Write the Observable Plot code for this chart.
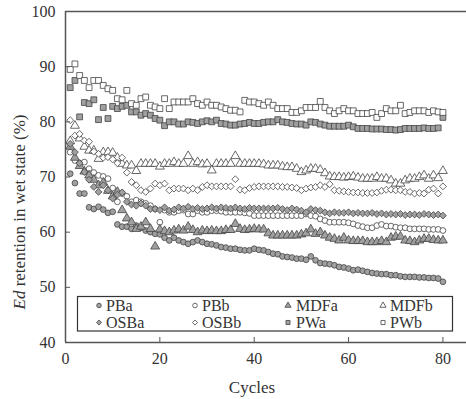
<!DOCTYPE html>
<html><head><meta charset="utf-8">
<script src="https://cdn.jsdelivr.net/npm/d3@7"></script>
<script src="https://cdn.jsdelivr.net/npm/@observablehq/plot@0.6"></script>
<style>
body{margin:0;background:#fff}
#chart{position:relative;width:466px;height:399px}
</style>
</head><body><div id="chart"></div>
<script>
const cycles = d3.range(1, 81);
const xTicks = [0, 20, 40, 60, 80];
const yTicks = [40, 50, 60, 70, 80, 90, 100];

const PBa = [70.6,68.9,67.0,67.0,64.5,64.2,64.6,64.1,63.5,63.7,
 61.4,61.0,61.0,60.6,61.2,60.8,60.3,60.0,59.7,59.6,
 59.0,58.5,59.0,58.5,58.2,57.9,58.2,58.5,58.2,57.9,
 57.8,57.6,57.3,57.2,57.0,57.0,56.8,56.7,56.7,57.0,
 56.8,56.7,56.4,56.1,56.0,55.6,55.5,55.4,55.2,55.2,
 55.0,55.6,54.9,54.4,54.3,54.2,54.0,53.7,53.6,53.4,
 53.1,53.2,53.0,52.8,52.6,52.5,52.4,52.4,52.2,52.2,
 52.0,51.9,51.9,51.9,51.8,51.8,51.7,51.7,51.6,51.0];
const PBb = [74.5,73.0,72.5,72.7,71.5,70.8,70.3,70.1,69.7,68.0,
 65.5,67.0,66.5,65.5,65.8,65.5,65.2,64.8,64.2,61.8,
 64.0,63.6,63.6,63.9,64.0,63.3,63.3,63.9,63.6,63.6,
 63.9,63.9,63.8,63.6,63.6,63.6,63.6,63.5,63.4,63.0,
 63.0,63.0,63.0,63.0,63.0,63.0,63.0,63.0,63.0,63.0,
 63.3,63.0,62.9,62.4,62.1,61.8,61.8,61.8,61.8,61.7,
 61.5,61.2,61.0,60.8,60.8,61.2,61.4,61.1,61.1,60.9,
 60.8,60.8,60.6,60.6,60.6,60.6,60.5,60.5,60.5,60.3];
const MDFa = [75.5,73.5,72.0,71.0,70.3,69.5,68.5,69.0,67.5,66.5,
 67.3,64.0,62.5,61.8,60.6,61.0,61.8,60.6,57.4,60.5,
 60.2,60.0,60.3,60.5,60.3,61.0,60.4,60.0,60.3,60.2,
 60.3,60.2,60.2,60.4,60.4,61.5,60.6,60.4,60.5,60.6,
 60.5,60.5,59.8,59.4,59.4,59.4,59.4,59.4,59.4,59.6,
 59.8,60.5,59.7,60.0,59.4,59.0,58.8,58.5,59.0,58.5,
 58.4,58.4,58.4,58.2,58.2,58.2,58.4,58.2,59.0,59.2,
 59.2,58.5,58.4,58.2,58.5,58.8,58.8,58.6,58.5,58.5];
const MDFb = [76.5,79.3,77.0,75.5,74.8,74.8,73.3,74.5,74.5,74.4,
 73.5,72.4,72.1,72.1,71.1,72.4,72.4,72.4,72.4,71.9,
 72.4,72.4,72.7,72.4,72.4,73.8,72.4,72.7,72.3,72.4,
 71.2,72.4,72.4,72.4,72.4,73.8,72.4,72.4,72.4,72.4,
 72.4,72.3,72.1,72.1,72.1,71.9,71.8,71.8,71.5,70.9,
 71.2,71.5,71.5,71.3,70.7,70.1,70.0,70.0,69.9,70.0,
 70.1,69.9,69.7,69.7,69.7,70.0,69.7,69.7,69.4,68.8,
 68.8,69.4,69.7,69.7,70.0,70.3,69.7,70.3,69.8,71.1];
const OSBa = [76.0,74.5,72.5,70.9,69.5,68.2,67.3,68.5,67.6,66.1,
 66.8,67.2,65.5,65.0,64.8,65.2,64.8,64.2,64.2,64.0,
 64.5,63.9,64.1,64.5,64.3,64.6,64.2,64.4,64.2,64.3,
 64.5,64.3,64.5,64.4,64.3,64.5,64.3,64.2,64.4,64.3,
 64.3,64.3,64.3,64.3,64.4,64.2,64.0,64.3,64.1,63.9,
 63.6,64.2,64.0,63.9,63.6,63.4,63.6,63.5,63.5,63.6,
 63.4,63.5,63.4,63.4,63.5,63.3,63.4,63.2,63.3,63.2,
 63.3,63.1,63.2,63.2,63.1,63.3,63.2,63.1,63.2,63.0];
const OSBb = [80.3,77.5,77.8,76.6,76.4,74.6,74.2,73.5,73.6,73.2,
 72.5,73.5,70.8,69.1,68.5,67.6,67.3,67.9,68.8,68.5,
 68.8,67.6,67.9,67.9,67.9,67.6,67.9,67.6,68.2,68.5,
 68.3,68.3,68.3,68.3,68.3,69.6,67.7,67.6,68.0,68.2,
 68.3,68.3,68.3,68.3,68.3,68.2,68.2,68.1,68.0,67.6,
 67.9,68.1,68.2,68.5,68.2,68.7,67.6,67.5,67.4,67.3,
 67.2,67.2,67.1,67.1,67.1,67.2,67.5,67.7,67.7,67.6,
 67.6,67.3,67.3,67.0,67.1,67.0,67.7,67.9,67.0,68.3];
const PWa = [86.2,87.5,80.9,83.5,83.3,84.0,80.4,82.6,80.6,82.8,
 82.4,82.8,83.0,81.8,81.8,81.2,81.5,81.2,80.6,80.3,
 79.3,80.0,80.0,79.6,79.6,80.0,79.9,79.7,80.0,80.2,
 80.0,80.3,79.7,79.6,79.4,79.4,79.6,79.7,79.9,79.7,
 79.7,79.9,80.0,80.0,80.4,80.0,79.9,79.7,79.6,79.6,
 79.4,80.0,79.9,79.6,79.4,79.2,79.2,79.2,79.2,79.4,
 79.1,78.8,78.8,78.8,78.7,78.7,78.7,78.6,78.6,78.5,
 78.6,78.8,78.8,78.8,78.8,78.9,78.8,78.8,78.9,80.8];
const PWb = [89.5,90.5,88.4,87.5,86.2,87.5,87.5,86.6,86.0,85.7,
 84.2,84.0,85.7,83.3,83.0,84.2,84.5,83.0,82.7,82.4,
 84.2,82.4,83.6,83.6,83.6,83.6,84.2,83.3,83.0,83.6,
 83.0,83.0,82.7,82.4,82.1,82.1,81.8,83.9,83.6,83.6,
 83.3,83.0,83.6,83.0,82.4,82.4,82.4,81.7,81.7,82.0,
 82.6,82.6,82.6,83.7,82.6,82.0,81.5,82.0,82.4,82.0,
 82.0,81.5,81.5,81.5,81.7,80.8,81.5,82.4,82.0,82.0,
 83.0,81.5,81.7,82.0,82.0,82.0,81.7,82.0,81.8,81.7];

const seriesNames = ["PBa","PBb","MDFa","MDFb","OSBa","OSBb","PWa","PWb"];
const seriesValues = [PBa, PBb, MDFa, MDFb, OSBa, OSBb, PWa, PWb];
const seriesSymbols = ["circle","circle","triangle","triangle","diamond2","diamond2","square","square"];
const seriesFills = ["#a0a0a0","#ffffff","#a0a0a0","#ffffff","#a0a0a0","#ffffff","#a0a0a0","#ffffff"];
const symbolR = {circle: 2.9, triangle: 3.3, diamond2: 3.1, square: 3.3};

const rows = seriesNames.flatMap((name, i) =>
  seriesValues[i].map((v, j) => ({series: name, cycle: cycles[j], value: v})));

const ink = "#333";
const dotMarks = seriesNames.map((name, i) =>
  Plot.dot(rows.filter(d => d.series === name), {
    x: "cycle", y: "value",
    symbol: seriesSymbols[i], r: symbolR[seriesSymbols[i]],
    fill: seriesFills[i], stroke: "#444", strokeWidth: 0.8
  }));

const chart = Plot.plot({
  width: 466, height: 399,
  marginTop: 11, marginBottom: 57, marginLeft: 65, marginRight: 0,
  style: {fontFamily: "'Liberation Serif', 'Times New Roman', serif", fontSize: "16px", color: ink, background: "#fff"},
  x: {domain: [0, 85]},
  y: {domain: [40, 100]},
  marks: [
    ...dotMarks,
    Plot.ruleY([40, 100], {stroke: "#555", strokeWidth: 1.5}),
    Plot.ruleX([0], {stroke: "#555", strokeWidth: 1.5}),
    Plot.axisX({ticks: xTicks.slice(1), tickSize: -5, fill: "none", stroke: "#555", label: null}),
    Plot.axisX({ticks: xTicks, tickSize: 0, tickPadding: 10, label: null, fill: ink}),
    Plot.axisY({ticks: yTicks, tickSize: -5, fill: "none", stroke: "#555", label: null}),
    Plot.axisY({ticks: yTicks, tickSize: 0, tickPadding: 10, label: null, fill: ink})
  ]
});
document.getElementById("chart").appendChild(chart);

const svg = d3.select(chart);
const font = "'Liberation Serif', 'Times New Roman', serif";

// axis titles
const yl = svg.append("text")
  .attr("transform", "translate(19,212) rotate(-90)")
  .attr("text-anchor", "middle").attr("dominant-baseline", "central")
  .attr("font-family", font).attr("font-size", 17).attr("fill", ink);
yl.append("tspan").attr("font-style", "italic").text("Ed");
yl.append("tspan").text(" retention in wet state (%)");

svg.append("text").attr("x", 252).attr("y", 387)
  .attr("text-anchor", "middle").attr("dominant-baseline", "central")
  .attr("font-family", font).attr("font-size", 17).attr("fill", ink)
  .text("Cycles");

// legend
const lg = svg.append("g").attr("text-anchor", "start");
lg.append("rect").attr("x", 77.5).attr("y", 296.5).attr("width", 375).attr("height", 34.5)
  .attr("fill", "#fff").attr("stroke", "#333").attr("stroke-width", 1.2);
const symMap = {circle: d3.symbolCircle, triangle: d3.symbolTriangle, diamond2: d3.symbolDiamond2, square: d3.symbolSquare};
const colMarker = [99, 195, 288, 383];
const colText = [106, 202, 296, 390];
const rowY = [305.5, 322.5];
seriesNames.forEach((name, i) => {
  const c = i % 4, r = Math.floor(i / 4);
  lg.append("path")
    .attr("d", d3.symbol(symMap[seriesSymbols[i]], Math.PI * 2.3 * 2.3)())
    .attr("transform", `translate(${colMarker[c]},${rowY[r]})`)
    .attr("fill", seriesFills[i]).attr("stroke", "#444").attr("stroke-width", 0.8);
  lg.append("text").attr("x", colText[c]).attr("y", rowY[r])
    .attr("text-anchor", "start")
    .attr("dominant-baseline", "central")
    .attr("font-family", font).attr("font-size", 16).attr("fill", ink)
    .text(name);
});
</script></body></html>
